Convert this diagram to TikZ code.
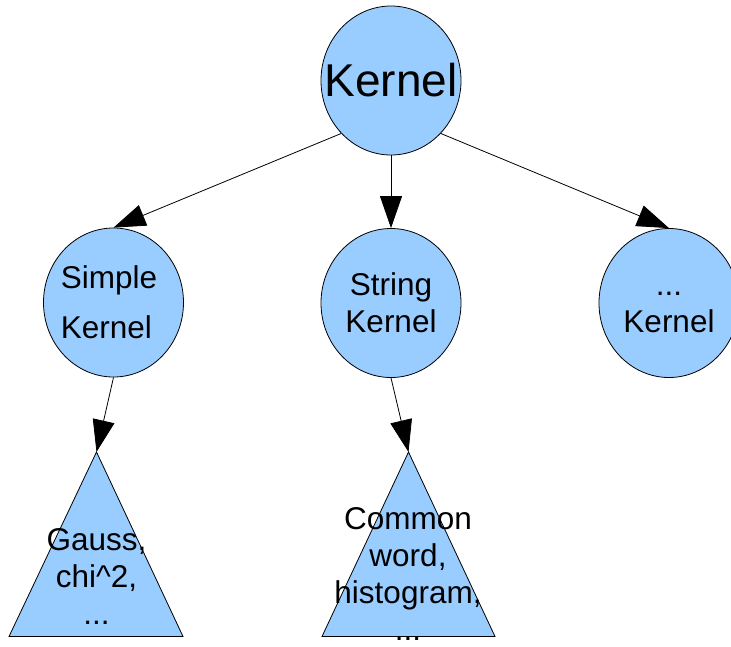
\documentclass[tikz,border=0pt]{standalone}
\usepackage{fontspec}
\setmainfont{Liberation Sans}
\usetikzlibrary{shapes.geometric,arrows.meta}
\definecolor{bubble}{HTML}{99CCFF}
\begin{document}
\begin{tikzpicture}[x=1pt,y=-1pt,
  blob/.style={ellipse, draw=black, line width=0.8pt, fill=bubble,
    minimum width=140pt, minimum height=149pt, inner sep=0pt},
  blobtext/.style={inner sep=0pt, font=\fontsize{31.5}{37}\selectfont},
  cone/.style={draw=black, line width=0.8pt, fill=bubble, line join=miter},
  conetext/.style={align=center, inner sep=0pt, font=\fontsize{31.5}{37}\selectfont},
  link/.style={draw=black, line width=0.8pt, -{Triangle[length=32pt,width=22pt]}}]
\useasboundingbox (0,0) rectangle (731,646);
\clip (0,0) rectangle (731,646);

% kernel hierarchy: root and second level
\node[blob, label={[blobtext, name=rootText, font=\fontsize{46}{50}\selectfont]center:Kernel}]
  (root) at (391,80.5) {};
\node[blob, label={[blobtext, name=simpleText, align=left, xshift=-4.5pt]center:Simple\\[13pt]Kernel}]
  (simple) at (113.5,302.5) {};
\node[blob, label={[blobtext, name=stringText, align=center]center:String\\Kernel}]
  (string) at (391,303) {};
\node[blob, label={[blobtext, name=otherText, align=center]center:\vphantom{K}...\\Kernel}]
  (other) at (669,303) {};

% leaf families drawn as cones
\coordinate (gaussTop) at (96.5,452);
\coordinate (commonTop) at (408.5,452);
\path[cone] (gaussTop) -- (183,636.5) -- (9,636.5) -- cycle;
\path[cone] (commonTop) -- (495,636.5) -- (322,636.5) -- cycle;
\node[conetext] (gaussText) at (96.5,576) {Gauss,\\chi\textasciicircum 2,\\...};
\node[conetext] (commonText) at (408,574) {Common\\word,\\histogram,\\...};

% connectors
\draw[link] (root.south west) -- (simple.north);
\draw[link] (root.south) -- (string.north);
\draw[link] (root.south east) -- (other.north);
\draw[link] (simple.south) -- (gaussTop);
\draw[link] (string.south) -- (commonTop);
\end{tikzpicture}
\end{document}
